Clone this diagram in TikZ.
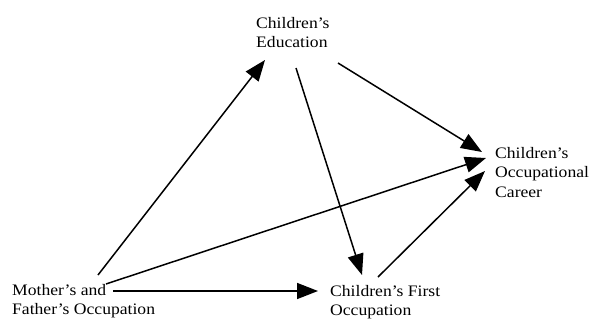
\documentclass[tikz,border=0pt]{standalone}
\usepackage{fontspec}
\setmainfont{Liberation Serif}[FakeStretch=1.1]
\usetikzlibrary{arrows.meta}
\begin{document}
\begin{tikzpicture}[x=1pt,y=-1pt,
  lbl/.style={anchor=north west, inner sep=0pt, align=left, font=\fontsize{16}{19.5}\selectfont},
  arr/.style={-{Triangle[length=21pt,width=16pt]}, line width=1.5pt}]
\useasboundingbox (0,0) rectangle (595,322);
\node[lbl] (par) at (12,284) {Mother's and\\Father's Occupation};
\node[lbl] (fst) at (330,285) {Children's First\\Occupation};
\node[lbl] (edu) at (256,17) {Children's\\Education};
\node[lbl] (car) at (495,147) {Children's\\Occupational\\Career};
% connector end points
\coordinate (parA) at (98,275);
\coordinate (parB) at (106,284);
\coordinate (parC) at (113,291);
\coordinate (eduIn) at (265,60);
\coordinate (eduA) at (296,68);
\coordinate (eduB) at (338,63);
\coordinate (fstInA) at (318,291);
\coordinate (fstInB) at (362,275);
\coordinate (fstOut) at (378,277);
\coordinate (carA) at (482,152);
\coordinate (carB) at (486,158);
\coordinate (carC) at (485,171);
\draw[arr] (parA) -- (eduIn);
\draw[arr] (parB) -- (carB);
\draw[arr] (parC) -- (fstInA);
\draw[arr] (eduA) -- (fstInB);
\draw[arr] (eduB) -- (carA);
\draw[arr] (fstOut) -- (carC);
\end{tikzpicture}
\end{document}
